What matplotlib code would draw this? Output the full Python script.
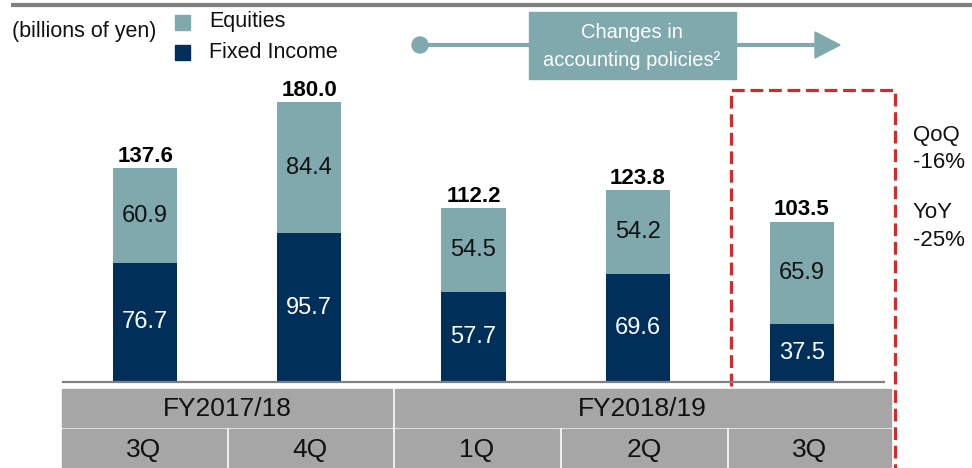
import matplotlib
matplotlib.use('Agg')
import matplotlib.pyplot as plt
from matplotlib.patches import Rectangle, Circle, Polygon
import numpy as np

plt.rcParams['font.family'] = ['Liberation Sans', 'DejaVu Sans']

# ---------------------------------------------------------------------------
# data (billions of yen)
# ---------------------------------------------------------------------------
quarters     = ['3Q', '4Q', '1Q', '2Q', '3Q']
fiscal_years = ['FY2017/18', 'FY2018/19']
fy_span      = [2, 3]                      # quarters per fiscal year
fixed_income = [76.7, 95.7, 57.7, 69.6, 37.5]
equities     = [60.9, 84.4, 54.5, 54.2, 65.9]
totals       = [137.6, 180.0, 112.2, 123.8, 103.5]
change_notes = ['QoQ', '-16%', 'YoY', '-25%']

# colours
EQ_CLR   = '#80A9AE'
FI_CLR   = '#00305A'
GRID_CLR = '#808080'
CELL_CLR = '#A6A6A6'
RED      = '#D42A2A'

W, H = 972, 468
fig = plt.figure(figsize=(W / 100, H / 100), dpi=100, facecolor='white')

# overlay axes in pixel coordinates for decoration
ov = fig.add_axes([0, 0, 1, 1], zorder=0)
ov.set_xlim(0, W)
ov.set_ylim(H, 0)
ov.axis('off')

# bar axes
base_y = 382
ax = fig.add_axes([63 / W, (H - base_y) / H, 821 / W, base_y / H], zorder=1)
ax.patch.set_alpha(0)
x = np.arange(len(quarters))
bw = 0.39
ax.bar(x, fixed_income, width=bw, color=FI_CLR, zorder=2)
ax.bar(x, equities, width=bw, bottom=fixed_income, color=EQ_CLR, zorder=2)
ax.set_xlim(-0.5, len(quarters) - 0.5)
ax.set_ylim(0, base_y / 1.552)
for s in ['top', 'right', 'left']:
    ax.spines[s].set_visible(False)
ax.spines['bottom'].set_color(GRID_CLR)
ax.spines['bottom'].set_linewidth(1.6)
ax.set_xticks([])
ax.set_yticks([])

for xi, fi, eq, tot in zip(x, fixed_income, equities, totals):
    ax.text(xi, fi / 2, f'{fi:.1f}', color='white', fontsize=17,
            ha='center', va='center', zorder=3)
    ax.text(xi, fi + eq / 2, f'{eq:.1f}', color='#111111', fontsize=17,
            ha='center', va='center', zorder=3)
    ax.annotate(f'{tot:.1f}', xy=(xi, fi + eq), xytext=(0, 4.5),
                textcoords='offset points', ha='center', va='baseline',
                fontsize=16, fontweight='bold', color='black')

# --- top rule ---
ov.plot([11, W], [5, 5], color=GRID_CLR, lw=3, solid_capstyle='butt')

# --- legend ---
ov.text(12, 31, '(billions of yen)', fontsize=15.5, va='center', ha='left',
        color='#111111')
ov.add_patch(Rectangle((175, 15), 15, 15, color=EQ_CLR))
ov.add_patch(Rectangle((175, 45), 15, 15, color=FI_CLR))
ov.text(209, 22, 'Equities', fontsize=15.5, va='center', color='#111111')
ov.text(209, 52, 'Fixed Income', fontsize=15.5, va='center', color='#111111')

# --- accounting policy arrow ---
ov.plot([420, 818], [45, 45], color=EQ_CLR, lw=3, solid_capstyle='butt')
ov.add_patch(Circle((420, 45), 8, color=EQ_CLR))
ov.add_patch(Polygon([[815, 32], [840, 45], [815, 58]], closed=True,
                     color=EQ_CLR))
ov.add_patch(Rectangle((529, 12), 207, 67, color=EQ_CLR))
ov.text(632, 33, 'Changes in', fontsize=14.5, color='white',
        ha='center', va='center')
ov.text(632, 61, 'accounting policies\u00b2', fontsize=14.5, color='white',
        ha='center', va='center')

# --- red dashed highlight (open at the bottom, left side stops at table) ---
ov.plot([730.5, 730.5, 894.5, 894.5], [386, 90, 90, 470], color=RED,
        lw=2.3, linestyle=(0, (4, 1.8)), solid_joinstyle='round',
        dash_joinstyle='round', zorder=1)

# --- QoQ / YoY ---
for txt, yy in zip(change_notes, [136, 163, 213, 240]):
    ov.text(913, yy, txt, fontsize=16, va='center', ha='left',
            color='#111111')

# --- table ---
edges = [62, 226, 392, 559, 726, 891]
gap = 2.5
row1 = (389, 426.5)
row2 = (429, 468)


def cell(x0, x1, y0, y1, label):
    ov.add_patch(Rectangle((x0, y0), x1 - x0, y1 - y0, color=CELL_CLR,
                           zorder=3))
    ov.text((x0 + x1) / 2, (y0 + y1) / 2 + 1, label, fontsize=19,
            ha='center', va='center', color='#111111', zorder=4)


k = 0
for fy, span in zip(fiscal_years, fy_span):
    x0 = edges[k] + (gap if k > 0 else 0)
    x1 = edges[k + span]
    cell(x0, x1, row1[0], row1[1], fy)
    k += span

for i, q in enumerate(quarters):
    x0 = edges[i] + (gap if i > 0 else 0)
    cell(x0, edges[i + 1], row2[0], row2[1], q)

fig.savefig('out.png', dpi=100, facecolor='white')
